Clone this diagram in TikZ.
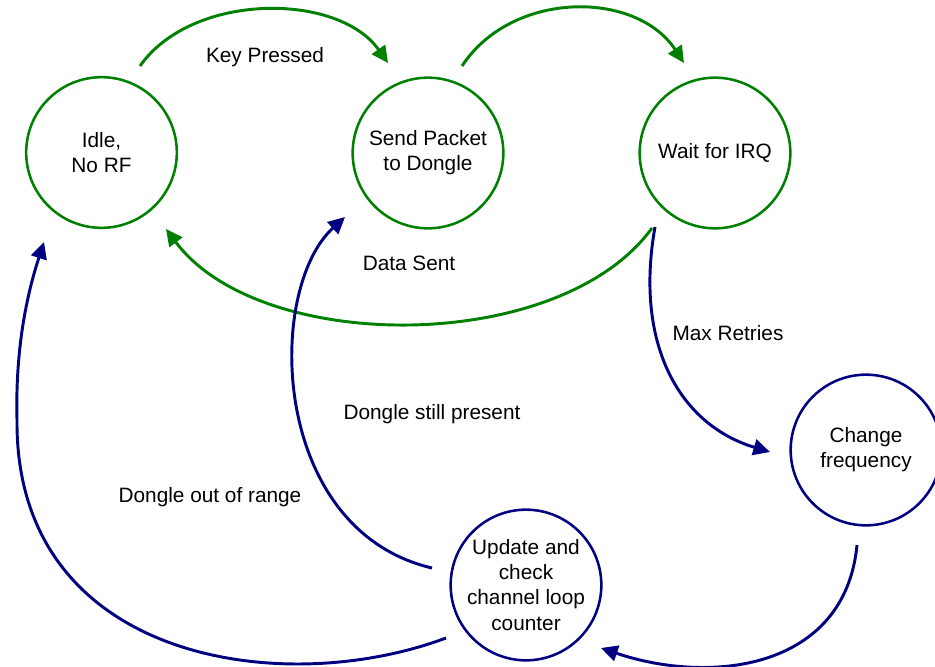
\documentclass[tikz,border=0pt]{standalone}
\usepackage{fontspec}
\setmainfont{Liberation Sans}
\usetikzlibrary{arrows.meta,calc}
\definecolor{stgreen}{RGB}{0,128,0}
\definecolor{stnavy}{RGB}{0,0,128}
\tikzset{
  state/.style={circle,draw,line width=1.9pt,minimum size=113pt,inner sep=0pt,
    align=center,font=\fontsize{15.6}{18.8}\selectfont},
  greenstate/.style={state,draw=stgreen},
  navystate/.style={state,draw=stnavy},
  conn/.style={line width=2.2pt,-{Triangle[length=12.5pt,width=12pt]}},
  greenconn/.style={conn,draw=stgreen},
  navyconn/.style={conn,draw=stnavy},
  lbl/.style={font=\fontsize{15.6}{18.8}\selectfont,inner sep=0pt}
}
\begin{document}
\begin{tikzpicture}[x=0.75pt,y=-0.75pt]
\useasboundingbox (0,0) rectangle (935,667);

% states
\node[greenstate] (idle) at (101.5,152.5) {Idle,\\No RF};
\node[greenstate] (send) at (428,153) {Send Packet\\to Dongle};
\node[greenstate] (wait) at (715,153) {Wait for IRQ};
\node[navystate]  (chg)  at (866,450) {Change\\frequency};
\node[navystate]  (upd)  at (526,585) {Update and\\check\\channel loop\\counter};

% connector end points, placed just off each circle
\coordinate (kp-a) at ($(idle)+(38.5,-86.5)$);
\coordinate (kp-b) at ($(send)+(-40,-90)$);
\coordinate (sw-a) at ($(send)+(34,-87)$);
\coordinate (sw-b) at ($(wait)+(-31,-90)$);
\coordinate (ds-a) at ($(wait)+(-63,75)$);
\coordinate (ds-b) at ($(idle)+(64.5,76.5)$);
\coordinate (mr-a) at ($(wait)+(-60,74)$);
\coordinate (mr-b) at ($(chg)+(-96,2)$);
\coordinate (cu-a) at ($(chg)+(-9,95)$);
\coordinate (cu-b) at ($(upd)+(75,63)$);
\coordinate (sp-a) at ($(upd)+(-94,-17)$);
\coordinate (sp-b) at ($(send)+(-83,64)$);
\coordinate (or-a) at ($(upd)+(-80,53)$);
\coordinate (or-m) at (17,420);
\coordinate (or-b) at ($(idle)+(-57.5,89.5)$);

% transitions
\draw[greenconn] (kp-a) .. controls (192,-8) and (338,-8) .. (kp-b);
\draw[greenconn] (sw-a) .. controls (512,-10) and (636,-10) .. (sw-b);
\draw[greenconn] (ds-a) .. controls (560,355) and (260,355) .. (ds-b);
\draw[navyconn]  (mr-a) .. controls (634,345) and (680,425) .. (mr-b);
\draw[navyconn]  (cu-a) .. controls (845,670) and (710,685) .. (cu-b);
\draw[navyconn]  (sp-a) .. controls (270,530) and (265,290) .. (sp-b);
\draw[navyconn]  (or-a) .. controls (280,700) and (15,660) .. (or-m)
                 .. controls (15,340) and (30,285) .. (or-b);

% transition labels
\node[lbl] (l-kp) at (265,57)  {Key Pressed};
\node[lbl] (l-ds) at (409,263) {Data Sent};
\node[lbl] (l-mr) at (728,333) {Max Retries};
\node[lbl] (l-sp) at (432,414) {Dongle still present};
\node[lbl] (l-or) at (210,497) {Dongle out of range};
\end{tikzpicture}
\end{document}
